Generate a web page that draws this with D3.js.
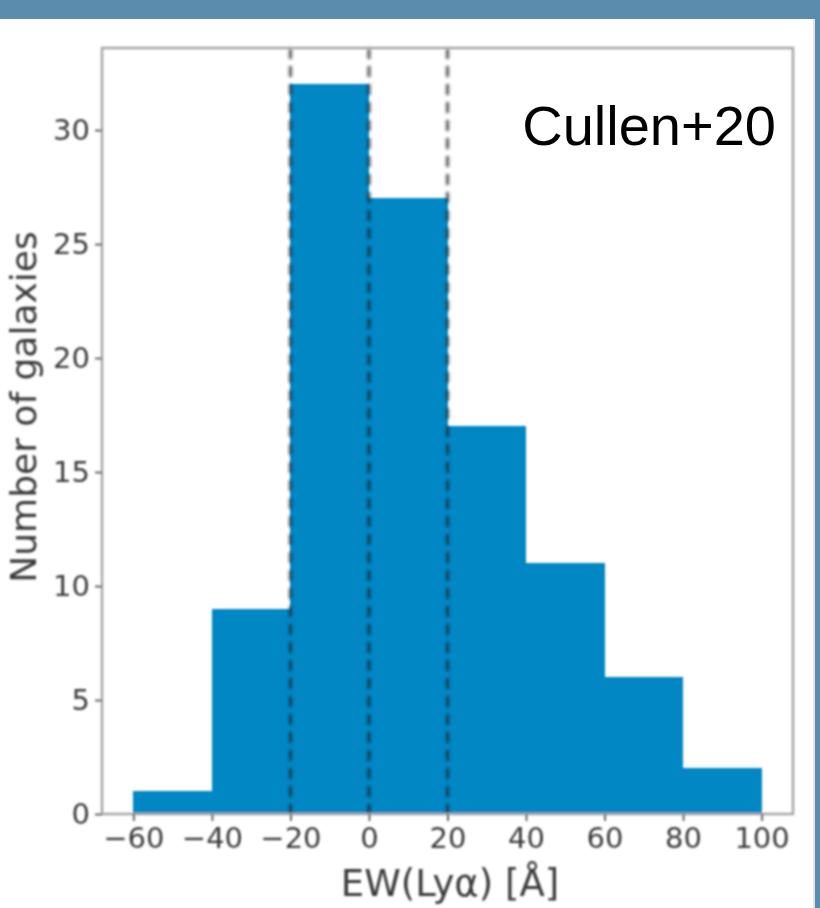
<!DOCTYPE html>
<html><head><meta charset="utf-8">
<script src="https://cdn.jsdelivr.net/npm/d3@7"></script>
<style>html,body{margin:0;padding:0;background:#fff;overflow:hidden}</style>
</head><body>
<svg id="c" width="820" height="908"></svg>
<script>
// ---- data ----
const binEdges = [-60, -40, -20, 0, 20, 40, 60, 80, 100];
const counts = [1, 9, 32, 27, 17, 11, 6, 2];
const xTicks = [-60, -40, -20, 0, 20, 40, 60, 80, 100];
const yTicks = [0, 5, 10, 15, 20, 25, 30];
const dashedAt = [-20, 0, 20];
const xLabel = "EW(Lyα) [Å]";
const yLabel = "Number of galaxies";
const tag = "Cullen+20";

// ---- layout ----
const W = 820, H = 908;
const L = 102, R = 793, T = 48, B = 814;
const svg = d3.select("#c");

const defs = svg.append("defs");
defs.append("filter").attr("id", "blur").attr("x", "-5%").attr("y", "-5%").attr("width", "110%").attr("height", "110%")
  .append("feGaussianBlur").attr("stdDeviation", 0.9);
defs.append("filter").attr("id", "blur2").attr("x", "-50%").attr("y", "-5%").attr("width", "200%").attr("height", "110%")
  .append("feGaussianBlur").attr("stdDeviation", 1.1);

// slide background
svg.append("rect").attr("width", W).attr("height", H).attr("fill", "#5b8cae");
svg.append("rect").attr("x", 0).attr("y", 19).attr("width", 815).attr("height", H - 19).attr("fill", "#ffffff");
svg.append("rect").attr("x", 813).attr("y", 19).attr("width", 2).attr("height", H - 19).attr("fill", "#e4e4e4");

const x = d3.scaleLinear().domain([-68, 108]).range([L, R]);
const y = d3.scaleLinear().domain([0, 33.6]).range([B, T]);

const g = svg.append("g").attr("filter", "url(#blur)");

// bars
const bins = counts.map((c, i) => ({x0: binEdges[i], x1: binEdges[i + 1], c}));
g.selectAll("rect.bar").data(bins).join("rect").attr("class", "bar")
  .attr("x", d => x(d.x0)).attr("width", d => x(d.x1) - x(d.x0))
  .attr("y", d => y(d.c)).attr("height", d => y(0) - y(d.c))
  .attr("fill", "#0387c4").attr("shape-rendering", "crispEdges");

// dashed lines
g.append("g").attr("filter", "url(#blur2)").selectAll("line").data(dashedAt).join("line")
  .attr("x1", d => x(d)).attr("x2", d => x(d)).attr("y1", T).attr("y2", B)
  .attr("stroke", "#1b1b1b").attr("stroke-opacity", 0.7).attr("stroke-width", 3.2)
  .attr("stroke-dasharray", "11,7");

// frame
g.append("rect").attr("x", L).attr("y", T).attr("width", R - L).attr("height", B - T)
  .attr("fill", "none").attr("stroke", "#a8a8a8").attr("stroke-width", 2.6);

// axes
const fmt = d3.format("d");
const xAxis = g.append("g").attr("transform", `translate(0,${B})`)
  .call(d3.axisBottom(x).tickValues(xTicks).tickFormat(fmt).tickSize(7).tickPadding(6));
const yAxis = g.append("g").attr("transform", `translate(${L},0)`)
  .call(d3.axisLeft(y).tickValues(yTicks).tickFormat(fmt).tickSize(7).tickPadding(5));
[xAxis, yAxis].forEach(a => {
  a.select(".domain").remove();
  a.selectAll(".tick line").attr("stroke", "#666").attr("stroke-width", 2);
  a.selectAll(".tick text").attr("fill", "#3a3a3a")
    .attr("font-family", "DejaVu Sans").attr("font-size", 29);
});
xAxis.selectAll(".tick text").attr("dy", "0.72em");

// axis labels
g.append("text").attr("x", 450).attr("y", 896).attr("text-anchor", "middle")
  .attr("font-family", "DejaVu Sans").attr("font-size", 37).attr("fill", "#3a3a3a")
  .text(xLabel);
g.append("text").attr("transform", "translate(36,407) rotate(-90)").attr("text-anchor", "middle")
  .attr("font-family", "DejaVu Sans").attr("font-size", 36).attr("fill", "#3a3a3a")
  .text(yLabel);

// annotation
svg.append("text").attr("x", 776).attr("y", 145).attr("text-anchor", "end")
  .attr("font-family", "Liberation Sans, Arial, Helvetica, sans-serif").attr("font-size", 56)
  .attr("fill", "#000").text(tag);
</script>
</body></html>
